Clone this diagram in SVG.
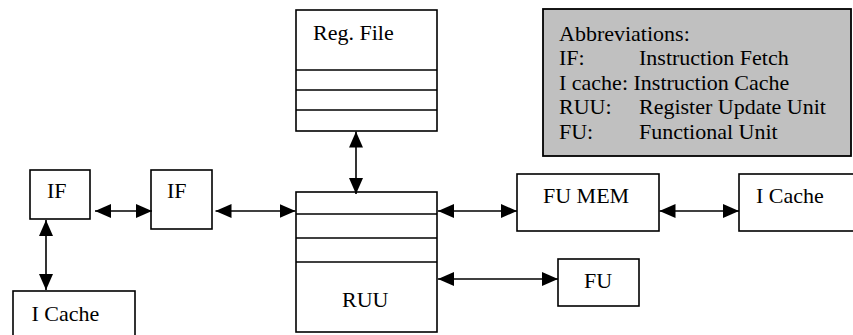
<svg xmlns="http://www.w3.org/2000/svg" width="853" height="335" viewBox="0 0 853 335">
  <style>
    .box { fill: #ffffff; stroke: #000000; stroke-width: 1.6; }
    .div { stroke: #000000; stroke-width: 1.3; fill: none; }
    .lbl { font-size: 22px; fill: #000000; }
    .legend { fill: #c0c0c0; stroke: #000000; stroke-width: 1.8; }
    .wire { stroke: #000000; stroke-width: 1.6; fill: none; }
  </style>
  <defs>
    <marker id="head" markerUnits="userSpaceOnUse" markerWidth="16" markerHeight="14" refX="16" refY="7" orient="auto-start-reverse">
      <path d="M0,0 L16,7 L0,14 z" fill="#000000"/>
    </marker>
  </defs>

  <g font-family="Liberation Serif, Times New Roman, serif">
    <!-- legend -->
    <g id="legend">
      <rect class="legend" x="543" y="9" width="308" height="147"/>
      <text class="lbl" x="559" y="40.5">Abbreviations:</text>
      <text class="lbl" x="559" y="65">IF:</text>
      <text class="lbl" x="639" y="65">Instruction Fetch</text>
      <text class="lbl" x="559" y="89.5">I cache: Instruction Cache</text>
      <text class="lbl" x="559" y="114">RUU:</text>
      <text class="lbl" x="639" y="114">Register Update Unit</text>
      <text class="lbl" x="559" y="138.5">FU:</text>
      <text class="lbl" x="639" y="138.5">Functional Unit</text>
    </g>

    <!-- fetch stages -->
    <g id="if1">
      <rect class="box" x="30" y="170" width="60" height="49"/>
      <text class="lbl" x="47" y="198">IF</text>
    </g>
    <g id="if2">
      <rect class="box" x="151" y="170" width="61" height="59"/>
      <text class="lbl" x="167" y="198">IF</text>
    </g>
    <g id="icache-fetch">
      <rect class="box" x="13" y="291" width="122" height="50"/>
      <text class="lbl" x="31.5" y="320.5">I Cache</text>
    </g>

    <!-- register file -->
    <g id="regfile">
      <rect class="box" x="296" y="10" width="141" height="121"/>
      <line class="div" x1="296" y1="70" x2="437" y2="70"/>
      <line class="div" x1="296" y1="90" x2="437" y2="90"/>
      <line class="div" x1="296" y1="110" x2="437" y2="110"/>
      <text class="lbl" x="313" y="40">Reg. File</text>
    </g>

    <!-- register update unit -->
    <g id="ruu">
      <rect class="box" x="296" y="192" width="141" height="140"/>
      <line class="div" x1="296" y1="214" x2="437" y2="214"/>
      <line class="div" x1="296" y1="238" x2="437" y2="238"/>
      <line class="div" x1="296" y1="262" x2="437" y2="262"/>
      <text class="lbl" x="342" y="306.5">RUU</text>
    </g>

    <!-- functional units -->
    <g id="fumem">
      <rect class="box" x="517" y="174" width="142" height="57"/>
      <text class="lbl" x="543" y="203">FU MEM</text>
    </g>
    <g id="icache-mem">
      <rect class="box" x="739" y="174" width="120" height="57"/>
      <text class="lbl" x="756" y="203">I Cache</text>
    </g>
    <g id="fu">
      <rect class="box" x="558" y="259" width="81" height="47"/>
      <text class="lbl" x="584" y="288">FU</text>
    </g>
  </g>

  <!-- connectors: double-headed arrows -->
  <g id="connectors" marker-start="url(#head)" marker-end="url(#head)">
    <line class="wire" x1="95" y1="211" x2="152" y2="211"/>
    <line class="wire" x1="215.5" y1="211" x2="295.5" y2="211"/>
    <line class="wire" x1="46" y1="220" x2="46" y2="290"/>
    <line class="wire" x1="356" y1="131.5" x2="356" y2="194"/>
    <line class="wire" x1="438" y1="211" x2="517" y2="211"/>
    <line class="wire" x1="659.5" y1="211" x2="739" y2="211"/>
    <line class="wire" x1="438" y1="279" x2="558" y2="279"/>
  </g>
</svg>
